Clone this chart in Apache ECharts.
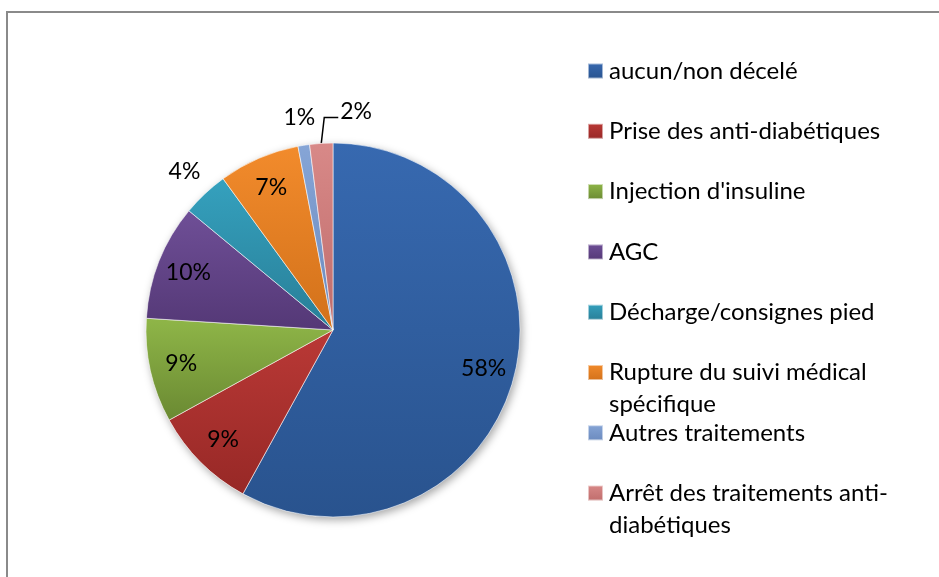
<!DOCTYPE html>
<html>
<head>
<meta charset="utf-8">
<script src="https://cdn.jsdelivr.net/npm/echarts@6/dist/echarts.min.js"></script>
<style>
  html, body { margin: 0; padding: 0; background: #ffffff; }
  #chart { width: 939px; height: 577px; }
</style>
</head>
<body>
<div id="chart"></div>
<script>
// Categories and their shares (%)
const categories = [
  'aucun/non décelé',
  'Prise des anti-diabétiques',
  "Injection d'insuline",
  'AGC',
  'Décharge/consignes pied',
  'Rupture du suivi médical spécifique',
  'Autres traitements',
  'Arrêt des traitements anti-diabétiques'
];
const shares = [58, 9, 9, 10, 4, 7, 1, 2];

// Legend wording, wrapped as in the report
const legendLines = {
  'Rupture du suivi médical spécifique': 'Rupture du suivi médical\nspécifique',
  'Arrêt des traitements anti-diabétiques': 'Arrêt des traitements anti-\ndiabétiques'
};

// Slice fills: lighter at the top, darker at the bottom
const topColors    = ['#3769b0', '#ba3936', '#8fb648', '#6f4f97', '#35a1be', '#f28b2c', '#86a5d6', '#d88988'];
const bottomColors = ['#29538e', '#972826', '#6a8932', '#543876', '#287e97', '#d2711a', '#6b8abe', '#bf6c6b'];

// Slices whose value sits outside the pie (guide length)
const outsideLabels = { 4: 30, 6: 28, 7: 26 };

const FONT = 'Lato';
const CX = 333, CY = 330, R = 187;
const LEGEND_FONT = 24, LEGEND_LINE = 32, LEGEND_PITCH = 60.3, LEGEND_FIRST = 71;

const gradient = (i) => new echarts.graphic.LinearGradient(0, 0, 0, 1, [
  { offset: 0, color: topColors[i] },
  { offset: 1, color: bottomColors[i] }
]);

const sliceData = categories.map((name, i) => ({
  name,
  value: shares[i],
  itemStyle: { color: gradient(i) }
}));

const labelData = categories.map((name, i) => {
  const item = { name, value: shares[i] };
  if (outsideLabels[i] != null) {
    item.label = { position: 'outside', distanceToLabelLine: i === 7 ? 5 : 0 };
    item.labelLine = { show: i === 7, length: outsideLabels[i], length2: i === 7 ? 14 : 0 };
  }
  return item;
});

const total = shares.reduce((a, b) => a + b, 0);

// One legend block per entry, so every entry keeps the same row pitch.
// A wrapped name gets an empty line above it, which keeps its first line
// level with the swatch (legend text is centred on the swatch).
const legends = categories.map((name, i) => {
  const wrapped = legendLines[name];
  const text = wrapped ? '\n' + wrapped : name;
  const lines = text.split('\n').length;
  const boxH = lines * LEGEND_LINE;
  return {
    data: [name],
    orient: 'vertical',
    left: 587,
    top: LEGEND_FIRST + i * LEGEND_PITCH - boxH / 2,
    padding: 0,
    itemWidth: 15,
    itemHeight: 15,
    icon: 'rect',
    selectedMode: false,
    formatter: () => text,
    textStyle: {
      fontFamily: FONT,
      fontSize: LEGEND_FONT,
      color: '#000000',
      lineHeight: LEGEND_LINE,
      padding: [0, 0, 0, 1]
    }
  };
});

const chart = echarts.init(document.getElementById('chart'), null, { renderer: 'canvas' });

chart.setOption({
  animation: false,
  backgroundColor: '#ffffff',
  graphic: [{
    type: 'rect',
    shape: { x: 7, y: 12, width: 1000, height: 700 },
    style: { fill: 'none', stroke: '#8a8a8a', lineWidth: 2 },
    silent: true
  }],
  legend: legends,
  series: [
    {
      // soft shadow under the whole disc
      type: 'pie',
      silent: true,
      center: [CX, CY],
      radius: R,
      data: [{ name: '__disc', value: total }],
      label: { show: false },
      labelLine: { show: false },
      itemStyle: {
        color: '#ffffff',
        shadowBlur: 9,
        shadowColor: 'rgba(0,0,0,0.35)',
        shadowOffsetX: 2,
        shadowOffsetY: 3
      },
      emphasis: { disabled: true }
    },
    {
      type: 'pie',
      center: [CX, CY],
      radius: R,
      startAngle: 90,
      clockwise: true,
      data: sliceData,
      label: { show: false },
      labelLine: { show: false },
      itemStyle: { borderColor: 'rgba(255,255,255,0.55)', borderWidth: 1 },
      emphasis: { disabled: true }
    },
    {
      // value labels, placed on a transparent ring so inside labels sit near the rim
      type: 'pie',
      silent: true,
      center: [CX, CY],
      radius: [118, R],
      startAngle: 90,
      clockwise: true,
      avoidLabelOverlap: false,
      data: labelData,
      itemStyle: { color: 'rgba(0,0,0,0)' },
      label: {
        show: true,
        position: 'inside',
        formatter: '{c}%',
        fontFamily: FONT,
        fontSize: 23,
        color: '#000000'
      },
      labelLine: {
        lineStyle: { color: '#000000', width: 1.5 }
      },
      labelLayout: (params) => {
        const i = params.dataIndex;
        const rect = params.labelRect;
        const pts = params.labelLinePoints;
        if (i === 4 || i === 6) {
          // centre the text on the end of its hidden guide
          return { dx: rect.width / 2 };
        }
        if (i === 7 && pts) {
          // guide rises from the slice, then turns right towards the text
          const p0 = pts[0];
          const bendY = pts[1][1];
          return {
            x: p0[0] + 19,
            y: bendY - 6,
            align: 'left',
            verticalAlign: 'middle',
            labelLinePoints: [p0, [p0[0] + 3, bendY], [p0[0] + 17, bendY]]
          };
        }
      },
      emphasis: { disabled: true }
    }
  ]
});
</script>
</body>
</html>
